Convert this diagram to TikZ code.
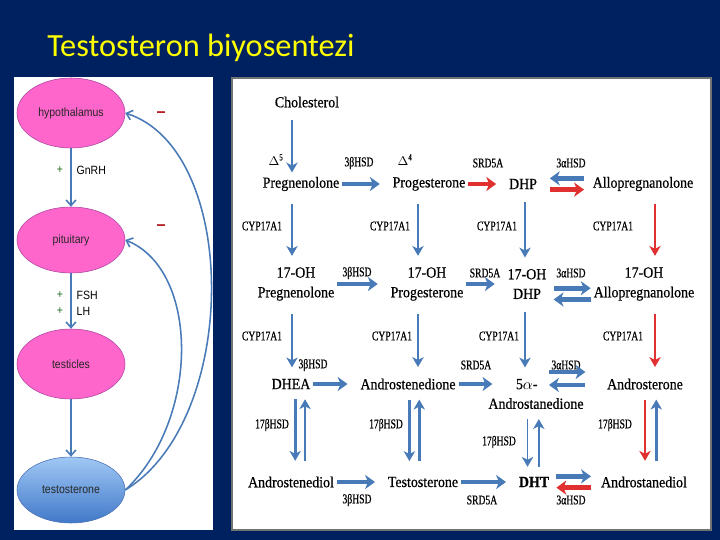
\documentclass[tikz,border=0pt]{standalone}
\usepackage{fontspec}
\setmainfont{Liberation Serif}
\newfontfamily\titlefont{Carlito}
\newfontfamily\glandfont[FakeStretch=0.88]{Liberation Sans}
\newfontfamily\molfont[FakeStretch=0.9,FakeBold=0.6]{Liberation Serif}
\newfontfamily\enzfont[FakeStretch=0.72,FakeBold=0.5]{Liberation Serif}
\usetikzlibrary{arrows.meta,positioning,calc,shapes.geometric}

\definecolor{slidebg}{RGB}{0,33,96}
\definecolor{titleyellow}{RGB}{255,255,0}
\definecolor{glandpink}{RGB}{255,102,204}
\definecolor{glandline}{RGB}{170,70,160}
\definecolor{flowblue}{RGB}{72,122,184}
\definecolor{flowred}{RGB}{224,48,48}
\definecolor{plusgreen}{RGB}{30,110,30}
\definecolor{minusred}{RGB}{180,30,30}
\definecolor{testotop}{RGB}{160,200,245}
\definecolor{testobottom}{RGB}{65,120,200}

\begin{document}
\begin{tikzpicture}[x=0.25mm, y=-0.25mm,
    gland/.style={ellipse, draw=glandline, fill=glandpink, minimum width=27mm, minimum height=17.5mm, font=\glandfont\fontsize{8.5}{10}\selectfont, text=black!85},
    steroid/.style={inner sep=1pt, font=\molfont\fontsize{11}{14}\selectfont, align=center},
    enzyme/.style={inner sep=1pt, font=\enzfont\fontsize{9.5}{11}\selectfont},
    plusminus/.style={inner sep=1pt, font=\glandfont\fontsize{8.5}{10}\selectfont},
    negative/.style={inner sep=1pt, text=minusred, font=\glandfont\bfseries\fontsize{13}{14}\selectfont},
    signal/.style={-{Straight Barb[length=4pt,width=7pt]}, draw=flowblue, line width=1.1pt},
    conv/.style={-{Stealth[length=7pt,width=8pt,inset=2pt]}, draw=flowblue, line width=2pt},
    convthin/.style={conv, line width=1.3pt},
    convred/.style={conv, draw=flowred},
    xfer/.style={-{Stealth[length=7pt,width=10pt,inset=2pt]}, draw=flowblue, line width=3.4pt},
    xferred/.style={xfer, draw=flowred}
]
\fill[slidebg] (0,0) rectangle (720,540);
\useasboundingbox (0,0) rectangle (720,540);
\node[anchor=base west, inner sep=0pt, text=titleyellow, font=\titlefont\fontsize{23}{27}\selectfont] (title) at (47,56) {Testosteron biyosentezi};

% panels
\fill[white] (14,77) rectangle (213,530);
\draw[fill=white, draw=black!55, line width=1.2pt] (232,78) rectangle (711,530);

% axis
\node[gland] (hypo) at (71,113) {hypothalamus};
\node[gland, minimum height=16.5mm] (pit) at (71,240) {pituitary};
\node[gland] (test) at (71,364) {testicles};
\node[gland, minimum height=16.5mm, draw=flowblue, top color=testotop, bottom color=testobottom] (testo) at (71,490) {testosterone};

\draw[signal] (hypo) -- (pit);
\draw[signal] (pit) -- (test);
\draw[signal] (test) -- (testo);
\draw[signal] (testo.east) .. controls (240,420) and (240,150) .. (hypo.east);
\draw[signal] (testo.east) .. controls (200,420) and (200,270) .. (pit.east);

\node[plusminus, text=plusgreen] (plusA) at (60,170) {+};
\node[plusminus, anchor=west] (gnrh) at (75,170) {GnRH};
\node[plusminus, text=plusgreen] (plusB) at (60,295) {+};
\node[plusminus, anchor=west] (fsh) at (75,295) {FSH};
\node[plusminus, text=plusgreen] (plusC) at (60,311) {+};
\node[plusminus, anchor=west] (lh) at (75,311) {LH};
\node[negative] (minusA) at (161,115) {–};
\node[negative] (minusB) at (161,228) {–};

% steroids
\node[steroid] (chol) at (307,102) {Cholesterol};
\node[enzyme] (d5) at (276,160) {$\Delta$\textsuperscript{5}};
\node[steroid] (preg) at (301,184) {Pregnenolone};
\node[enzyme] (d4) at (405,160) {$\Delta$\textsuperscript{4}};
\node[steroid] (prog) at (429,184) {Progesterone};
\node[steroid] (dhp) at (523,184) {DHP};
\node[steroid] (allo) at (643,184) {Allopregnanolone};

\node[steroid] (ohpreg) at (296,284) {17-OH\\Pregnenolone};
\node[steroid] (ohprog) at (427,284) {17-OH\\Progesterone};
\node[steroid] (ohdhp) at (527,284) {17-OH\\DHP};
\node[steroid] (ohallo) at (644,284) {17-OH\\Allopregnanolone};

\node[steroid] (dhea) at (291,384) {DHEA};
\node[steroid] (adione) at (408,384) {Androstenedione};
\node[steroid] (adiona) at (536,394) {5$\alpha$-\hspace*{1.2em}\\Androstanedione};
\node[steroid] (andron) at (645,384) {Androsterone};

\node[steroid] (adiol) at (291,482) {Androstenediol};
\node[steroid] (testn) at (423,482) {Testosterone};
\node[steroid] (dht) at (534,482) {\textbf{DHT}};
\node[steroid] (adiolb) at (644,482) {Androstanediol};

% enzymes
\node[enzyme] (eA) at (359,163) {3βHSD};
\node[enzyme] (eB) at (488,163) {SRD5A};
\node[enzyme] (eC) at (571,163) {3αHSD};
\node[enzyme] (eD) at (262,226) {CYP17A1};
\node[enzyme] (eE) at (390,226) {CYP17A1};
\node[enzyme] (eF) at (497,226) {CYP17A1};
\node[enzyme] (eG) at (613,226) {CYP17A1};
\node[enzyme] (eH) at (357,273) {3βHSD};
\node[enzyme] (eI) at (485,273) {SRD5A};
\node[enzyme] (eJ) at (571,273) {3αHSD};
\node[enzyme] (eK) at (262,336) {CYP17A1};
\node[enzyme] (eL) at (392,336) {CYP17A1};
\node[enzyme] (eM) at (499,336) {CYP17A1};
\node[enzyme] (eN) at (623,336) {CYP17A1};
\node[enzyme] (eO) at (313,365) {3βHSD};
\node[enzyme] (eP) at (476,365) {SRD5A};
\node[enzyme] (eQ) at (566,365) {3αHSD};
\node[enzyme] (eR) at (272,425) {17βHSD};
\node[enzyme] (eS) at (386,425) {17βHSD};
\node[enzyme] (eT) at (499,442) {17βHSD};
\node[enzyme] (eU) at (615,425) {17βHSD};
\node[enzyme] (eV) at (357,500) {3βHSD};
\node[enzyme] (eW) at (482,500) {SRD5A};
\node[enzyme] (eX) at (571,500) {3αHSD};

% columns
\coordinate (k1) at (292,0);
\coordinate (k2) at (418,0);
\coordinate (k3) at (525,0);
\coordinate (k4) at (655,0);

\draw[conv, shorten <=8pt, shorten >=2pt] (chol.south -| k1) -- (preg.north -| k1);
\draw[conv, shorten <=8pt, shorten >=7pt] (preg.south -| k1) -- (ohpreg.north -| k1);
\draw[conv, shorten <=8pt, shorten >=7pt] (prog.south -| k2) -- (ohprog.north -| k2);
\draw[convthin, shorten <=8pt, shorten >=7pt] (dhp.south -| k3) -- (ohdhp.north -| k3);
\draw[convred, shorten <=8pt, shorten >=7pt] (allo.south -| k4) -- (ohallo.north -| k4);
\draw[conv, shorten <=8pt, shorten >=7pt] (ohpreg.south -| k1) -- (dhea.north -| k1);
\draw[conv, shorten <=8pt, shorten >=7pt] (ohprog.south -| k2) -- (adione.north -| k2);
\draw[convthin, shorten <=8pt, shorten >=7pt] (ohdhp.south -| k3) -- (adiona.north -| k3);
\draw[convred, shorten <=8pt, shorten >=7pt] (ohallo.south -| k4) -- (andron.north -| k4);

\draw[conv, shorten <=6pt, shorten >=10pt] ([xshift=3pt]dhea.south) -- ([xshift=3pt]adiol.north);
\draw[conv, shorten <=10pt, shorten >=6pt] ([xshift=10pt]adiol.north) -- ([xshift=10pt]dhea.south);
\draw[conv, shorten <=6pt, shorten >=10pt] ([xshift=1pt]adione.south) -- ([xshift=1pt]testn.north -| adione.south);
\draw[conv, shorten <=10pt, shorten >=6pt] ([xshift=8pt]testn.north -| adione.south) -- ([xshift=8pt]adione.south);
\draw[convthin, shorten <=6pt, shorten >=6pt] ([xshift=-6pt]adiona.south) -- ([xshift=-6pt]adiona.south |- dht.north);
\draw[convthin, shorten <=6pt, shorten >=6pt] ([xshift=2pt]adiona.south |- dht.north) -- ([xshift=2pt]adiona.south);
\draw[convred, shorten <=6pt, shorten >=10pt] (andron.south) -- (andron.south |- adiolb.north);
\draw[conv, shorten <=10pt, shorten >=6pt] ([xshift=8pt]andron.south |- adiolb.north) -- ([xshift=8pt]andron.south);

\draw[xfer, shorten <=1pt, shorten >=8pt] (preg) -- (prog);
\draw[xferred, shorten <=1pt, shorten >=8pt] (prog) -- (dhp);
\draw[xfer, shorten <=5pt, shorten >=8pt] ([yshift=4pt]allo.west) -- ([yshift=4pt]dhp.east);
\draw[xferred, shorten <=8pt, shorten >=5pt] ([yshift=-4pt]dhp.east) -- ([yshift=-4pt]allo.west);
\draw[xfer, shorten <=1pt, shorten >=8pt] (ohpreg) -- (ohprog);
\draw[xfer, shorten <=1pt, shorten >=8pt] (ohprog) -- (ohdhp);
\draw[xfer, shorten <=4pt, shorten >=1pt] ([yshift=-3pt]ohdhp.east) -- ([yshift=-3pt]ohallo.west);
\draw[xfer, shorten <=1pt, shorten >=4pt] ([yshift=-11pt]ohallo.west) -- ([yshift=-11pt]ohdhp.east);
\draw[xfer, shorten <=1pt, shorten >=8pt] (dhea) -- (adione);
\draw[xfer, shorten <=1pt, shorten >=-4pt] (adione) -- (adiona.west |- adione);
\draw[xfer] ($(adiona)+(13,-22)$) -- ($(andron.west)+(-20,-12)$);
\draw[xfer] ($(andron.west)+(-20,1)$) -- ($(adiona)+(13,-9)$);
\draw[xfer, shorten <=1pt, shorten >=8pt] (adiol) -- (testn);
\draw[xfer, shorten <=1pt, shorten >=8pt] (testn) -- (dht);
\draw[xfer, shorten <=4pt, shorten >=6pt] ([yshift=4pt]dht.east) -- ([yshift=4pt]adiolb.west);
\draw[xferred, shorten <=6pt, shorten >=4pt] ([yshift=-4pt]adiolb.west) -- ([yshift=-4pt]dht.east);
\end{tikzpicture}
\end{document}
